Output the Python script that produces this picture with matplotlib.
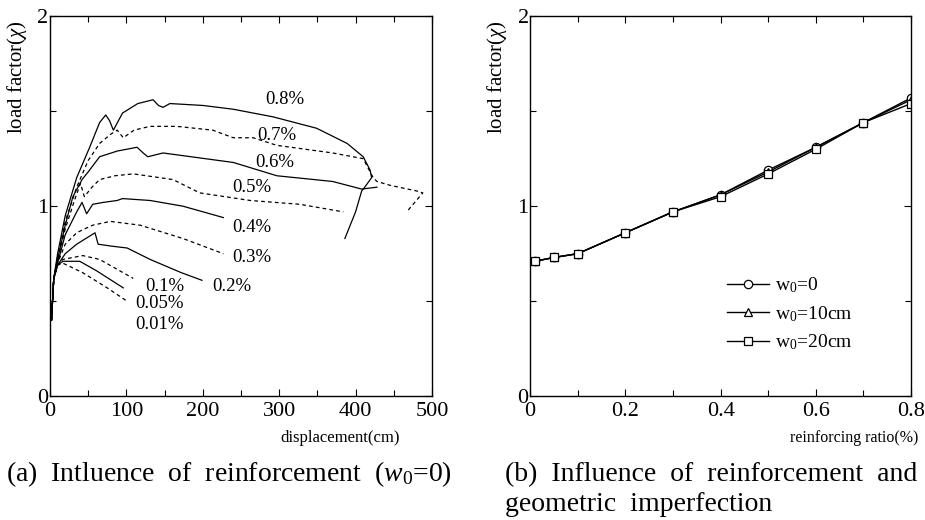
import matplotlib
matplotlib.use("Agg")
import matplotlib.pyplot as plt
from matplotlib.ticker import MultipleLocator

plt.rcParams["font.family"] = ["Liberation Serif", "DejaVu Serif"]
plt.rcParams["mathtext.fontset"] = "custom"
plt.rcParams["mathtext.rm"] = "Liberation Serif"
plt.rcParams["mathtext.it"] = "Liberation Serif:italic"

# ---- panel (a): load factor vs displacement for each reinforcing ratio ----
ratios = ["0.8%", "0.7%", "0.6%", "0.5%", "0.4%", "0.3%", "0.2%", "0.1%", "0.05%", "0.01%"]
disp = {
    "0.8%": [2, 5, 10, 20, 35, 52, 65, 73, 78, 83, 95, 115, 135, 142, 148, 157, 200, 240, 292, 349, 389, 410, 419, 421, 412, 408, 400, 386],
    "0.7%": [2, 5, 10, 20, 35, 50, 65, 80, 88, 96, 110, 131, 166, 213, 240, 266, 297, 370, 410, 423, 428, 445, 480, 488, 469],
    "0.6%": [2, 5, 10, 20, 30, 42, 50, 65, 88, 114, 122, 128, 148, 240, 297, 370, 408, 428],
    "0.5%": [2, 5, 10, 20, 32, 40, 45, 55, 65, 85, 109, 161, 196, 262, 327, 384],
    "0.4%": [2, 5, 10, 20, 35, 42, 48, 56, 70, 88, 95, 131, 174, 227],
    "0.3%": [2, 5, 10, 20, 35, 45, 56, 79, 118, 174, 227],
    "0.2%": [2, 5, 10, 20, 35, 55, 59, 63, 80, 101, 131, 172, 199],
    "0.1%": [2, 5, 10, 17, 43, 65, 109],
    "0.05%": [2, 5, 10, 17, 39, 61, 96],
    "0.01%": [2, 5, 10, 17, 43, 75, 101],
}
load = {
    "0.8%": [0.40, 0.62, 0.75, 0.95, 1.15, 1.31, 1.44, 1.48, 1.45, 1.40, 1.49, 1.54, 1.56, 1.53, 1.52, 1.54, 1.53, 1.51, 1.47, 1.41, 1.33, 1.26, 1.19, 1.15, 1.10, 1.08, 0.97, 0.83],
    "0.7%": [0.40, 0.62, 0.73, 0.92, 1.10, 1.24, 1.33, 1.38, 1.40, 1.36, 1.40, 1.42, 1.42, 1.40, 1.36, 1.36, 1.32, 1.28, 1.25, 1.15, 1.13, 1.11, 1.08, 1.07, 0.98],
    "0.6%": [0.40, 0.62, 0.72, 0.90, 1.05, 1.14, 1.18, 1.26, 1.29, 1.31, 1.28, 1.26, 1.28, 1.23, 1.16, 1.13, 1.09, 1.10],
    "0.5%": [0.40, 0.62, 0.71, 0.88, 1.03, 1.12, 1.05, 1.10, 1.14, 1.16, 1.17, 1.14, 1.07, 1.03, 1.01, 0.97],
    "0.4%": [0.40, 0.62, 0.70, 0.85, 0.97, 1.02, 0.96, 1.01, 1.02, 1.03, 1.04, 1.03, 1.00, 0.94],
    "0.3%": [0.40, 0.62, 0.70, 0.80, 0.86, 0.88, 0.90, 0.92, 0.90, 0.83, 0.75],
    "0.2%": [0.40, 0.62, 0.69, 0.75, 0.80, 0.85, 0.86, 0.80, 0.79, 0.78, 0.72, 0.65, 0.61],
    "0.1%": [0.40, 0.62, 0.69, 0.72, 0.74, 0.72, 0.62],
    "0.05%": [0.40, 0.62, 0.69, 0.71, 0.71, 0.66, 0.57],
    "0.01%": [0.40, 0.62, 0.69, 0.70, 0.65, 0.57, 0.50],
}
label_pos = {
    "0.8%": (307, 1.56), "0.7%": (297, 1.37), "0.6%": (294, 1.23), "0.5%": (264, 1.10),
    "0.4%": (264, 0.89), "0.3%": (264, 0.73), "0.2%": (238, 0.58), "0.1%": (150, 0.58),
    "0.05%": (144, 0.49), "0.01%": (144, 0.38),
}

# ---- panel (b): load factor vs reinforcing ratio ----
ratio_pct = [0.01, 0.05, 0.1, 0.2, 0.3, 0.4, 0.5, 0.6, 0.7, 0.8]
lf_w0 = [0.71, 0.73, 0.75, 0.86, 0.97, 1.06, 1.19, 1.31, 1.44, 1.57]
lf_w10 = [0.71, 0.73, 0.75, 0.86, 0.97, 1.06, 1.18, 1.31, 1.44, 1.56]
lf_w20 = [0.71, 0.73, 0.75, 0.86, 0.97, 1.05, 1.17, 1.30, 1.44, 1.54]

fig = plt.figure(figsize=(9.25, 5.2), dpi=100)
axa = fig.add_axes([0.054, 0.238, 0.413, 0.731])
axb = fig.add_axes([0.573, 0.238, 0.412, 0.731])

for i, r in enumerate(ratios):
    ls = "-" if i % 2 == 0 else (0, (3, 2.5))
    axa.plot(disp[r], load[r], color="black", lw=0.9, ls=ls)
    axa.text(*label_pos[r], r, fontsize=13.5, ha="center", va="center")

axb.plot(ratio_pct, lf_w0, "-o", color="black", lw=1.0, ms=6, mfc="white", mew=0.9, label=r"w$_0$=0")
axb.plot(ratio_pct, lf_w10, "-^", color="black", lw=1.0, ms=6, mfc="white", mew=0.9, label=r"w$_0$=10cm")
axb.plot(ratio_pct, lf_w20, "-s", color="black", lw=1.0, ms=6, mfc="white", mew=0.9, label=r"w$_0$=20cm")
axb.legend(loc="lower left", bbox_to_anchor=(0.47, 0.07), frameon=False, fontsize=14,
           handlelength=2.2, labelspacing=0.45, handletextpad=0.3)

axa.set_xlim(0, 500); axa.set_ylim(0, 2)
axa.xaxis.set_major_locator(MultipleLocator(100)); axa.xaxis.set_minor_locator(MultipleLocator(50))
axb.set_xlim(0, 0.8); axb.set_ylim(0, 2)
axb.set_xticks([0, 0.2, 0.4, 0.6, 0.8]); axb.set_xticklabels(["0", "0.2", "0.4", "0.6", "0.8"])
axb.xaxis.set_minor_locator(MultipleLocator(0.1))

for ax in (axa, axb):
    ax.yaxis.set_major_locator(MultipleLocator(1)); ax.yaxis.set_minor_locator(MultipleLocator(0.5))
    ax.tick_params(which="both", direction="in", top=True, right=True, labelsize=16, pad=1)
    ax.tick_params(axis="x", which="both", pad=4)
    ax.tick_params(which="major", length=5, width=0.8)
    ax.tick_params(which="minor", length=4, width=0.8)
    for s in ax.spines.values():
        s.set_linewidth(1.0)
    ax.set_ylabel(r"load factor($\chi$)", fontsize=15)
    ax.yaxis.set_label_coords(-0.055, 0.84)

axa.set_xlabel("displacement(cm)", fontsize=12)
axa.xaxis.set_label_coords(0.76, -0.09)
axb.set_xlabel("reinforcing ratio(%)", fontsize=11.5)
axb.xaxis.set_label_coords(0.85, -0.09)

fig.text(0.007, 0.075, r"(a)  Intluence  of  reinforcement  ($w_0$=0)", fontsize=20, ha="left", va="baseline")
fig.text(0.546, 0.075, "(b)  Influence  of  reinforcement  and", fontsize=20, ha="left", va="baseline")
fig.text(0.546, 0.017, "geometric  imperfection", fontsize=20, ha="left", va="baseline")

fig.savefig("out.png", dpi=100)
